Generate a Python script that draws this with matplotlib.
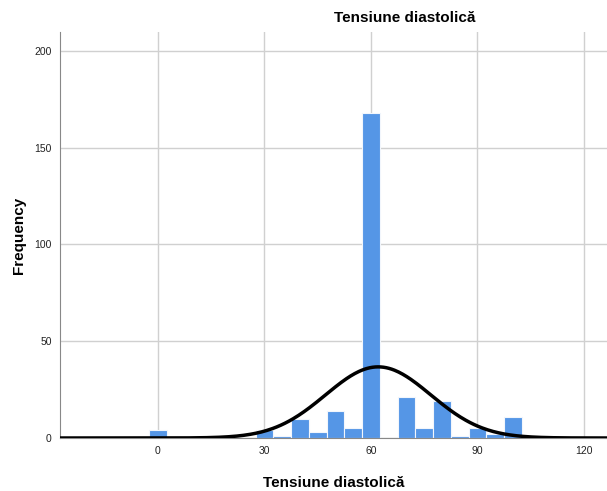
import numpy as np
import matplotlib.pyplot as plt

plt.rcParams['font.family'] = ['Liberation Sans', 'DejaVu Sans']

# histogram bins (centre value) and counts
bin_centers = [0, 30, 35, 40, 45, 50, 55, 60, 65, 70, 75, 80, 85, 90, 95, 100]
counts = [4, 4, 1, 10, 3, 14, 5, 168, 0, 21, 5, 19, 1, 5, 2, 11]
bin_width = 5

x_ticks = [0, 30, 60, 90, 120]
y_ticks = [0, 50, 100, 150, 200]

centers = np.array(bin_centers, dtype=float)
freq = np.array(counts, dtype=float)

# normal curve fitted to the binned values
n = freq.sum()
mean = (centers * freq).sum() / n
sd = np.sqrt(((centers - mean) ** 2 * freq).sum() / (n - 1))

fig = plt.figure(figsize=(6.07, 4.91), dpi=100)
ax = fig.add_axes([60 / 607, 53 / 491, 547 / 607, 406 / 491])

ax.bar(centers, freq, width=bin_width, color='#5596e6',
       edgecolor='#f2f6fc', linewidth=0.8, zorder=2)

xs = np.linspace(-27.6, 126.5, 400)
pdf = n * bin_width / (sd * np.sqrt(2 * np.pi)) * np.exp(-0.5 * ((xs - mean) / sd) ** 2)
ax.plot(xs, pdf, color='black', linewidth=2.5, zorder=3)

ax.set_xlim(-27.6, 126.5)
ax.set_ylim(0, 209.8)
ax.set_xticks(x_ticks)
ax.set_yticks(y_ticks)
ax.tick_params(length=0, labelsize=7.5, colors='#222222', pad=6)
ax.grid(True, color='#d0d0d0', linewidth=1.0, zorder=0)
ax.set_axisbelow(True)

for side in ['top', 'right']:
    ax.spines[side].set_visible(False)
ax.spines['left'].set_color('#888888')
ax.spines['bottom'].set_color('#888888')

ax.set_ylabel('Frequency', fontsize=11, fontweight='bold', labelpad=6)
ax.set_xlabel('Tensiune diastolică', fontsize=11, fontweight='bold', labelpad=14)
fig.text(405 / 607, 1 - 18 / 491, 'Tensiune diastolică', ha='center', va='center',
         fontsize=11, fontweight='bold')

fig.savefig('out.png', dpi=100)
